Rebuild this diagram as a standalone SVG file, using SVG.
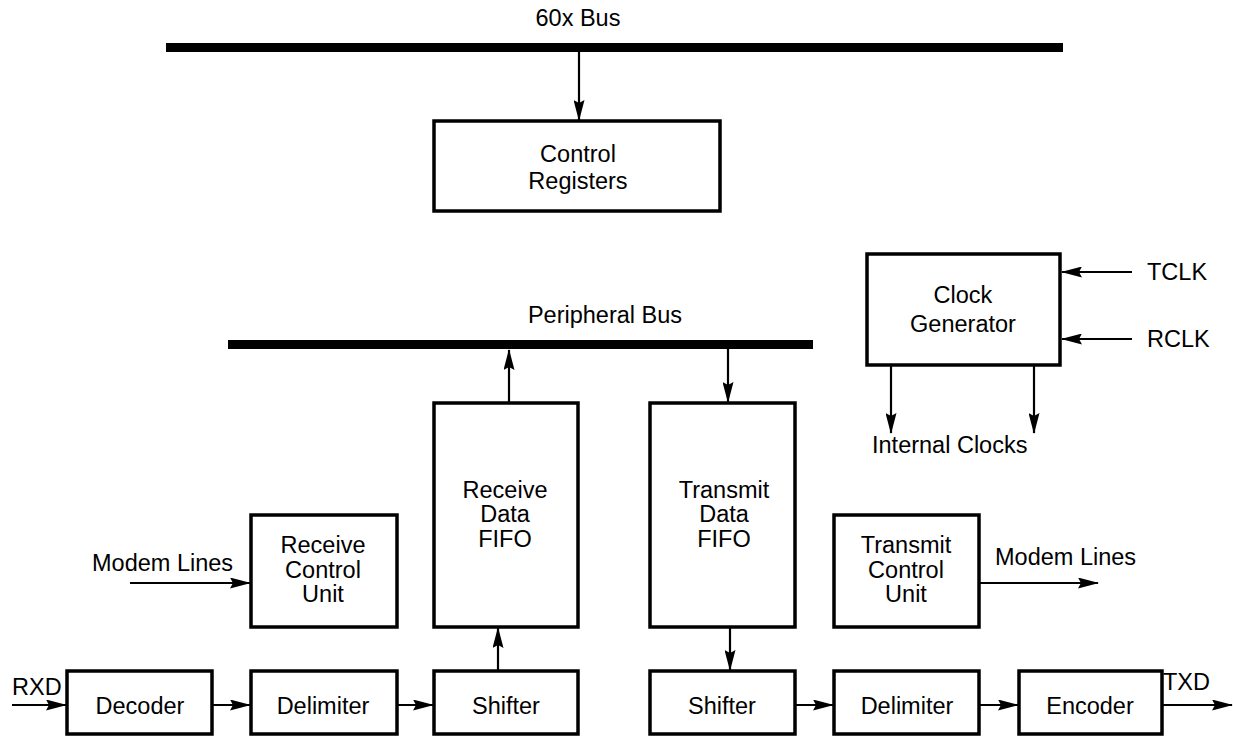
<svg xmlns="http://www.w3.org/2000/svg" width="1233" height="740" viewBox="0 0 1233 740">
<style>
text{font-family:"Liberation Sans",Arial,Helvetica,sans-serif;font-size:23.5px;fill:#000}
.c{text-anchor:middle}
.box{fill:none;stroke:#000;stroke-width:3.5}
.bus{fill:#000}
.ln{fill:none;stroke:#000;stroke-width:2.2;marker-end:url(#ah)}
</style>
<defs>
<marker id="ah" markerUnits="userSpaceOnUse" markerWidth="21" markerHeight="11" refX="20" refY="5.5" orient="auto" viewBox="0 0 21 11">
<path d="M0,0 L21,5.5 L0,11 L3,5.5 z" fill="#000"/>
</marker>
</defs>
<rect x="0" y="0" width="1233" height="740" fill="#fff"/>
<g id="bus60x">
<rect class="bus" x="166" y="43" width="897" height="9"/>
<text class="c" x="578" y="26">60x Bus</text>
</g>
<g id="peripheralBus">
<rect class="bus" x="228" y="340" width="585" height="9"/>
<text class="c" x="605" y="323">Peripheral Bus</text>
</g>
<g id="controlRegisters">
<rect class="box" x="434" y="121" width="286" height="90"/>
<text class="c" x="578" y="162">Control</text>
<text class="c" x="578" y="189">Registers</text>
</g>
<g id="clockGenerator">
<rect class="box" x="867" y="254" width="193" height="111"/>
<text class="c" x="963" y="303">Clock</text>
<text class="c" x="963" y="332">Generator</text>
</g>
<g id="receiveFifo">
<rect class="box" x="434" y="403" width="144" height="224"/>
<text class="c" x="505" y="498">Receive</text>
<text class="c" x="505" y="522">Data</text>
<text class="c" x="505" y="547">FIFO</text>
</g>
<g id="transmitFifo">
<rect class="box" x="650" y="403" width="145" height="224"/>
<text class="c" x="724" y="498">Transmit</text>
<text class="c" x="724" y="522">Data</text>
<text class="c" x="724" y="547">FIFO</text>
</g>
<g id="receiveControl">
<rect class="box" x="251" y="515" width="146" height="112"/>
<text class="c" x="323" y="553">Receive</text>
<text class="c" x="323" y="578">Control</text>
<text class="c" x="323" y="602">Unit</text>
</g>
<g id="transmitControl">
<rect class="box" x="834" y="515" width="145" height="112"/>
<text class="c" x="906" y="553">Transmit</text>
<text class="c" x="906" y="578">Control</text>
<text class="c" x="906" y="602">Unit</text>
</g>
<g id="decoder">
<rect class="box" x="67" y="671" width="145" height="63"/>
<text class="c" x="140" y="714">Decoder</text>
</g>
<g id="rxDelimiter">
<rect class="box" x="251" y="671" width="146" height="63"/>
<text class="c" x="323" y="714">Delimiter</text>
</g>
<g id="rxShifter">
<rect class="box" x="434" y="671" width="144" height="63"/>
<text class="c" x="506" y="714">Shifter</text>
</g>
<g id="txShifter">
<rect class="box" x="650" y="671" width="145" height="63"/>
<text class="c" x="722" y="714">Shifter</text>
</g>
<g id="txDelimiter">
<rect class="box" x="834" y="671" width="145" height="63"/>
<text class="c" x="907" y="714">Delimiter</text>
</g>
<g id="encoder">
<rect class="box" x="1019" y="671" width="143" height="63"/>
<text class="c" x="1090" y="714">Encoder</text>
</g>
<g id="labels">
<text x="1147" y="280">TCLK</text>
<text x="1147" y="347">RCLK</text>
<text x="872" y="453">Internal Clocks</text>
<text x="92" y="571">Modem Lines</text>
<text x="995" y="565">Modem Lines</text>
<text x="12" y="695">RXD</text>
<text x="1163" y="690">TXD</text>
</g>
<g id="connectors">
<line class="ln" x1="579" y1="52" x2="579" y2="120"/>
<line class="ln" x1="1132" y1="272" x2="1062" y2="272"/>
<line class="ln" x1="1132" y1="339" x2="1062" y2="339"/>
<line class="ln" x1="891" y1="365" x2="891" y2="433"/>
<line class="ln" x1="1034" y1="365" x2="1034" y2="433"/>
<line class="ln" x1="509" y1="402" x2="509" y2="350"/>
<line class="ln" x1="728" y1="349" x2="728" y2="402"/>
<line class="ln" x1="130" y1="583" x2="250" y2="583"/>
<line class="ln" x1="980" y1="583" x2="1098" y2="583"/>
<line class="ln" x1="12" y1="705" x2="66" y2="705"/>
<line class="ln" x1="213" y1="705" x2="250" y2="705"/>
<line class="ln" x1="398" y1="705" x2="433" y2="705"/>
<line class="ln" x1="498" y1="670" x2="498" y2="628"/>
<line class="ln" x1="730" y1="628" x2="730" y2="670"/>
<line class="ln" x1="796" y1="705" x2="833" y2="705"/>
<line class="ln" x1="980" y1="705" x2="1018" y2="705"/>
<line class="ln" x1="1163" y1="705" x2="1232" y2="705"/>
</g>
</svg>
